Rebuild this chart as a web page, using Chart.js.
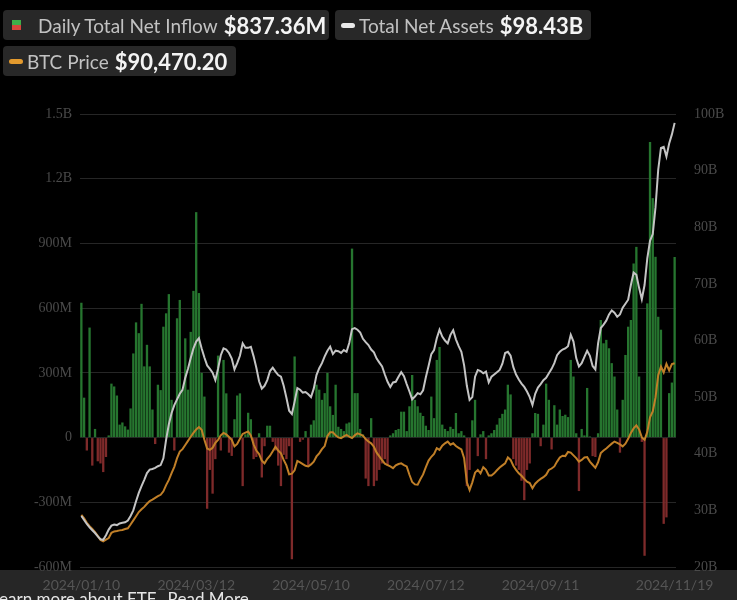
<!DOCTYPE html>
<html>
<head>
<meta charset="utf-8">
<script src="https://cdn.jsdelivr.net/npm/chart.js@4.4.1/dist/chart.umd.min.js"></script>
<style>
  body { margin: 0; background: #000; width: 737px; height: 600px; overflow: hidden; font-family: Lato, "Noto Sans", sans-serif; }
  .strip { position: absolute; left: 0; top: 570px; width: 737px; height: 30px; background: #262626; }
  .wrap { position: absolute; left: 0; top: 0; width: 737px; height: 600px; }
  .pill { position: absolute; height: 30px; background: #282828; border-radius: 4px; display: flex; align-items: center; box-sizing: border-box; padding-left: 6px; white-space: nowrap; }
  .pill .name { color: #c2c2c2; font-size: 19px; margin-right: 6px; }
  .pill .val { color: #f4f4f4; font-size: 22px; font-weight: bold; }
  .ico-bar { width: 9px; height: 10px; background: linear-gradient(#3fae4a 50%, #d8443c 50%); margin: 0 17px 0 3px; }
  .ico-line { width: 14px; height: 5px; border-radius: 3px; margin-right: 4px; }
  .more { position: absolute; left: -9px; top: 588px; color: #e6e6e6; font-size: 17px; white-space: nowrap; }
</style>
</head>
<body>
<div class="strip"></div>
<div class="wrap"><canvas id="myChart" width="737" height="600"></canvas></div>

<div class="pill" style="left:3px; top:10px; width:326px;">
  <div class="ico-bar"></div><span class="name">Daily Total Net Inflow</span><span class="val">$837.36M</span>
</div>
<div class="pill" style="left:335px; top:10px; width:256px;">
  <div class="ico-line" style="background:#e8e8e8"></div><span class="name">Total Net Assets</span><span class="val">$98.43B</span>
</div>
<div class="pill" style="left:3px; top:46px; width:233px;">
  <div class="ico-line" style="background:#e39a2e"></div><span class="name">BTC Price</span><span class="val">$90,470.20</span>
</div>
<div class="more">Learn more about ETF.&nbsp; Read More</div>

<script>
// daily net inflow, millions USD (one per trading day, 2024/01/10 .. 2024/11/19)
let netInflow = [
    625, 185, -60, 510, -130, 40, -110, -120, -160, -90,
    10, 250, 237, 195, 60, 70, 52, 37, 135, 390,
    534, 484, 620, 330, 430, 330, 130, -30, 245, 220,
    514, 576, 665, 175, -60, 553, 638, 222, 460, 222,
    490, 680, 1045, 670, 300, 190, -330, -150, -260, -100,
    380, -60, 360, 205, -70, -85, 85, 195, 205, -225,
    15, 115, 85, -100, -90, 20, -185, -40, 55, 55,
    -20, -60, -130, -225, -80, -100, -40, -564, 376, 220,
    -20, -10, 30, -130, 60, 80, 245, 222, 175, 206,
    300, 145, 105, 245, 50, 40, 30, 65, 70, 876,
    206, 206, 40, 15, -190, -225, 90, -225, -200, -150,
    -120, -100, -130, 10, 20, 35, 40, 120, 120, 30,
    145, 290, 175, 145, 115, 100, 55, 35, 190, 90,
    360, 420, 60, 40, 30, 50, 40, 114, 20, 30,
    10, -225, -150, 80, 175, -86, 15, 30, -100, 10,
    20, 35, 60, 90, 110, 130, 245, 200, -100, -130,
    -150, -200, -290, -150, -120, 20, 114, 110, -40, 60,
    250, 175, -55, 150, 60, 130, 100, 106, 95, 360,
    283, 20, -248, 40, 10, 230, 5, -86, -90, 20,
    545, 437, 453, 414, 345, 283, 130, -70, 175, 383,
    514, 545, 807, 884, 283, -20, -548, 622, 1370, 1110,
    838, 560, 500, -400, -370, 206, 255, 837
]

// total net assets, billions USD
let netAssets = [
    29.0, 28.3, 27.6, 27.0, 26.5, 26.0, 25.4, 24.9, 24.8, 25.6,
    26.6, 27.3, 27.5, 27.4, 27.7, 27.8, 27.9, 28.2, 29.0, 30.0,
    31.6, 33.1, 34.3, 35.4, 36.6, 37.2, 37.3, 37.5, 37.8, 38.0,
    39.2, 42.5, 45.2, 47.2, 48.6, 49.6, 50.6, 51.3, 53.4, 55.0,
    56.9, 58.6, 59.8, 60.4, 58.6, 57.0, 55.6, 55.0, 54.3, 53.0,
    55.0, 57.4, 58.6, 58.4, 57.8, 56.8, 54.9, 56.0, 57.3, 59.5,
    58.7, 58.7, 58.9, 57.2, 55.2, 52.8, 51.5, 52.0, 53.0, 54.6,
    55.2, 54.5, 53.9, 53.6, 52.0, 49.9, 47.6, 47.0, 49.2, 51.6,
    51.3, 50.8, 50.9, 50.5, 50.0, 51.5, 53.9, 55.1, 56.0, 57.2,
    58.2, 58.9, 57.6, 58.2, 58.1, 57.8, 58.3, 58.0, 59.6, 62.0,
    62.2, 61.9, 61.4, 60.3, 59.7, 59.2, 58.4, 57.9, 56.8, 56.1,
    55.4, 54.0, 52.7, 51.8, 52.6, 52.7, 53.6, 54.4, 53.7, 52.3,
    51.0, 49.6, 50.1, 50.7, 50.5, 51.2, 53.5, 55.5, 57.6, 58.3,
    60.4, 61.9, 60.7, 60.0, 59.5, 61.0, 61.8, 60.2, 59.0, 58.0,
    55.6, 52.0, 49.5, 50.0, 53.6, 54.8, 54.6, 54.2, 54.5, 52.6,
    53.6, 54.0, 54.4, 54.8, 55.9, 57.8, 58.0, 57.3, 55.3, 54.0,
    53.1, 52.4, 51.8, 51.0, 50.0, 48.6, 50.6, 51.7, 52.3, 53.0,
    53.4, 54.2, 55.0, 56.0, 57.4, 58.0, 58.4, 58.6, 59.0, 61.0,
    59.8, 56.9, 55.4, 56.0, 57.1, 58.2, 57.3, 55.5, 54.9, 59.5,
    62.2, 62.8, 63.5, 64.6, 65.3, 64.9, 64.2, 64.6, 65.8, 66.5,
    67.2, 69.8, 72.0, 71.6, 69.3, 67.3, 69.8, 74.5, 77.6, 78.8,
    83.5, 90.2, 94.0, 94.2, 92.5, 94.8, 96.4, 98.43
]

// BTC price, thousands USD
let btcPrice = [
    46.6, 45.6, 44.3, 43.3, 42.5, 41.6, 40.5, 39.3, 38.9, 39.4,
    39.9, 41.4, 41.8, 41.9, 42.1, 42.2, 42.5, 42.7, 43.8, 45.0,
    46.2, 47.4, 48.2, 48.9, 49.8, 50.6, 51.0, 51.5, 52.0, 52.4,
    53.4, 55.2, 56.7, 58.7, 60.5, 63.0, 64.9, 65.6, 66.8, 68.0,
    69.2, 70.3, 71.3, 72.0, 71.2, 68.3, 65.8, 65.4, 66.0, 67.4,
    68.3, 69.6, 70.3, 69.9, 69.1, 68.3, 66.4, 67.1, 68.6, 70.0,
    70.4, 70.7, 69.6, 67.0, 65.2, 64.2, 62.3, 61.5, 62.8, 63.7,
    65.0, 66.3, 65.2, 64.4, 62.5, 60.9, 58.3, 58.5, 59.5, 62.2,
    61.8, 61.3, 60.8, 60.6, 61.2, 62.0, 63.5, 64.4, 65.6, 66.5,
    69.4, 70.5, 70.5, 69.6, 69.0, 68.8, 69.3, 69.7, 69.2, 68.8,
    69.6, 70.2, 69.9, 69.5, 68.5, 67.8, 67.3, 66.3, 64.6, 63.5,
    62.4, 61.4, 61.0, 60.6, 60.1, 60.9, 61.3, 61.5, 61.0, 60.6,
    58.2, 56.1, 55.4, 55.3, 56.9, 58.3, 60.4, 62.3, 63.4, 64.2,
    65.9, 65.4, 66.6, 67.3, 67.8, 66.9, 67.3, 66.5, 66.0, 65.5,
    63.0, 56.0, 53.8, 56.0, 58.8, 59.6, 58.6, 60.4, 59.6, 58.0,
    58.0, 58.6, 59.5, 60.3, 60.9, 61.5, 63.2, 62.5, 60.8, 59.6,
    58.6, 57.9, 57.0, 56.2, 55.8, 54.3, 55.6, 56.4, 57.0, 57.5,
    58.2, 59.6, 60.0, 60.6, 62.0, 63.2, 63.7, 63.6, 64.8, 64.6,
    63.8, 63.0, 62.0, 62.5, 63.2, 63.3, 62.0, 61.1, 60.2, 61.8,
    64.5, 65.2, 65.8, 66.5, 67.2, 67.8, 67.4, 67.0, 66.4, 67.2,
    68.6, 70.3, 71.6, 72.5, 71.3, 69.0, 68.3, 70.6, 74.8, 76.5,
    80.5, 87.0, 89.5, 87.8, 90.3, 88.4, 90.2, 90.47
]

let tickDates = ['2024/01/10', '2024/03/12', '2024/05/10', '2024/07/12', '2024/09/11', '2024/11/19']
let holidays = ['2024/01/15', '2024/02/19', '2024/03/29', '2024/05/27', '2024/06/19', '2024/07/04', '2024/09/02']

// trading days between the first and last tick date
let labels = []
let d = new Date(Date.UTC(2024, 0, 10))
let end = Date.UTC(2024, 10, 19)
while (d.getTime() <= end) {
    let s = d.getUTCFullYear() + '/' + String(d.getUTCMonth() + 1).padStart(2, '0') + '/' + String(d.getUTCDate()).padStart(2, '0')
    let wd = d.getUTCDay()
    if (wd != 0 && wd != 6 && !holidays.includes(s)) labels.push(s)
    d.setUTCDate(d.getUTCDate() + 1)
}

let fmtM = v => v == 0 ? '0' : (Math.abs(v) >= 1000 ? (v / 1000).toFixed(1) + 'B' : v + 'M')
let tickFont = { family: '"Liberation Serif", serif', size: 14 }

let myChart = document.querySelector('#myChart')

new Chart(myChart, {
    type: 'bar',
    data: {
        labels: labels,
        datasets: [{
            label: 'Total Net Assets',
            type: 'line',
            data: netAssets,
            yAxisID: 'yr',
            borderColor: '#c4c4c4',
            borderWidth: 2,
            pointRadius: 0,
            tension: 0,
            order: 1
        }, {
            label: 'BTC Price',
            type: 'line',
            data: btcPrice,
            yAxisID: 'btc',
            borderColor: '#c07f28',
            borderWidth: 2,
            pointRadius: 0,
            tension: 0,
            order: 2
        }, {
            label: 'Daily Total Net Inflow',
            data: netInflow,
            yAxisID: 'y',
            backgroundColor: netInflow.map(v => v >= 0 ? '#26752f' : '#7e2a2a'),
            barPercentage: 0.85,
            categoryPercentage: 1,
            order: 3
        }]
    },
    options: {
        responsive: false,
        animation: false,
        layout: { padding: { top: 114 } },
        plugins: { legend: { display: false }, tooltip: { enabled: false } },
        scales: {
            x: {
                grid: { display: false },
                border: { display: false },
                afterFit: s => { s.height = 33 },
                ticks: {
                    autoSkip: false,
                    maxRotation: 0,
                    padding: 2,
                    color: '#555',
                    font: { family: 'Lato', size: 14 },
                    callback: function (v, i) { return tickDates.includes(labels[i]) ? labels[i] : null }
                }
            },
            y: {
                position: 'left',
                min: -600,
                max: 1500,
                afterFit: s => { s.width = 80 },
                grid: { color: '#262626', drawTicks: false },
                border: { display: false },
                ticks: { stepSize: 300, padding: 8, color: '#4a4a4a', font: tickFont, callback: v => fmtM(v) }
            },
            yr: {
                position: 'right',
                min: 20,
                max: 100,
                afterFit: s => { s.width = 61 },
                grid: { display: false },
                border: { display: false },
                ticks: { stepSize: 10, padding: 10, color: '#4a4a4a', font: tickFont, callback: v => v + 'B' }
            },
            btc: {
                display: false,
                min: 31.5,
                max: 162.6
            }
        }
    }
})
</script>
</body>
</html>
